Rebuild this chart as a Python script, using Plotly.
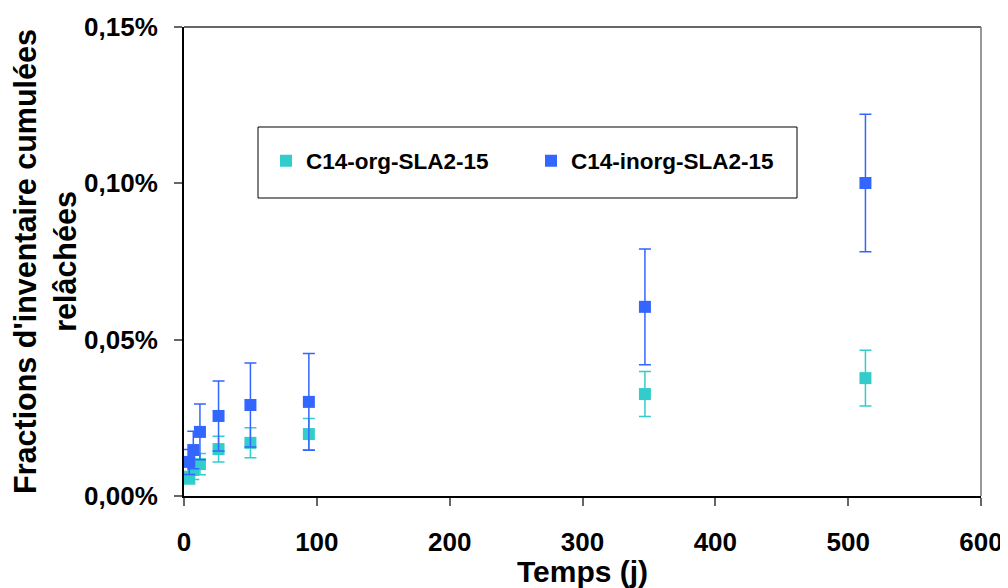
import plotly.graph_objects as go

# Days
days_org = [4, 7, 12, 26, 50, 94, 347, 513]
days_inorg = [4, 7, 12, 26, 50, 94, 347, 513]

# Cumulative released fractions (fraction, 0.001 = 0.1%)
org_vals = [0.000058, 0.000083, 0.000102, 0.000150, 0.000170, 0.000198, 0.000326, 0.000377]
org_err = [0.000020, 0.000030, 0.000034, 0.000041, 0.000048, 0.000050, 0.000072, 0.000089]

inorg_vals = [0.000109, 0.000147, 0.000205, 0.000256, 0.000291, 0.000301, 0.000605, 0.001001]
inorg_err = [0.000040, 0.000060, 0.000089, 0.000112, 0.000134, 0.000155, 0.000185, 0.000220]

x_ticks = [0, 100, 200, 300, 400, 500, 600]
y_ticks = [0, 0.0005, 0.0010, 0.0015]

org_name = "C14-org-SLA2-15"
inorg_name = "C14-inorg-SLA2-15"
org_color = "#33CCCC"
inorg_color = "#3366FF"

FONT = "Arial, Liberation Sans, sans-serif"

fig = go.Figure()
fig.add_trace(go.Scatter(
    x=days_org, y=org_vals, mode="markers", name=org_name,
    marker=dict(symbol="square", size=12, color=org_color),
    error_y=dict(type="data", array=org_err, visible=True, color=org_color,
                 thickness=1.5, width=6),
))
fig.add_trace(go.Scatter(
    x=days_inorg, y=inorg_vals, mode="markers", name=inorg_name,
    marker=dict(symbol="square", size=12, color=inorg_color),
    error_y=dict(type="data", array=inorg_err, visible=True, color=inorg_color,
                 thickness=1.5, width=6),
))

# page body has an 8px margin: figure placed at (8, 8)
OFF = 8
W, H = 1000, 580
L, R, T, B = 184 - OFF, 27, 27 - OFF, 92
pw = W - L - R
ph = H - T - B

def px_x(p):
    return (p - OFF - L) / pw

def px_y(p):
    return 1 - (p - OFF - T) / ph

# Legend frame
fig.add_shape(type="rect", xref="paper", yref="paper",
              x0=px_x(258), x1=px_x(797), y0=px_y(198), y1=px_y(127),
              line=dict(color="black", width=1), fillcolor="white", layer="below")

fig.update_layout(
    width=W, height=H,
    margin=dict(l=L, r=R, t=T, b=B, autoexpand=False),
    paper_bgcolor="white", plot_bgcolor="white",
    separators=",.",
    font=dict(family=FONT, color="black"),
    showlegend=True,
    legend=dict(
        orientation="h", x=px_x(266), y=px_y(161), yanchor="middle", xanchor="left",
        bgcolor="rgba(0,0,0,0)", borderwidth=0,
        font=dict(family=FONT, size=22.5, color="black", weight="bold"),
        entrywidth=220, entrywidthmode="pixels",
        itemsizing="constant",
    ),
    xaxis=dict(
        range=[0, 600], tickvals=x_ticks,
        showgrid=False, zeroline=False,
        showline=True, linecolor="black", linewidth=2, mirror=False,
        ticks="outside", ticklen=8, tickcolor="#666666", tickwidth=2,
        ticklabelstandoff=14,
        tickfont=dict(family=FONT, size=26, color="black", weight="bold"),
        title=dict(text="Temps (j)", standoff=3,
                   font=dict(family=FONT, size=30, color="black", weight="bold")),
        automargin=False,
    ),
    yaxis=dict(
        range=[0, 0.0015], tickvals=y_ticks,
        tickformat=".2%",
        showgrid=False, zeroline=False,
        showline=True, linecolor="black", linewidth=2,
        ticks="outside", ticklen=8, tickcolor="#666666", tickwidth=2,
        ticklabelstandoff=11,
        tickfont=dict(family=FONT, size=26, color="black", weight="bold"),
        title=dict(text="Fractions d'inventaire cumulées<br>relâchées", standoff=8,
                   font=dict(family=FONT, size=30.5, color="black", weight="bold")),
        automargin=False,
    ),
)

# Top and right frame lines (plot area border)
fig.add_shape(type="line", xref="paper", yref="paper", x0=0, x1=1, y0=1, y1=1,
              line=dict(color="#333333", width=1.5))
fig.add_shape(type="line", xref="paper", yref="paper", x0=1, x1=1, y0=0, y1=1,
              line=dict(color="#777777", width=1.5))

fig.write_html("out.html")
